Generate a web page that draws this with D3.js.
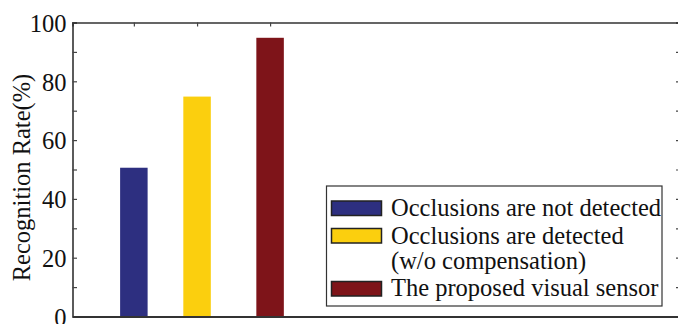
<!DOCTYPE html>
<html><head><meta charset="utf-8">
<script src="https://cdn.jsdelivr.net/npm/d3@7"></script>
<style>body{margin:0;background:#fff}svg{display:block}text{font-family:"Liberation Serif","Times New Roman",serif;fill:#111}</style>
</head><body>
<script>
const categories = ["Occlusions are not detected", "Occlusions are detected\n(w/o compensation)", "The proposed visual sensor"];
const values = [50.6, 74.8, 94.8];
const xPositions = [1, 2.03, 3.22];
const colors = ["#2d2f80", "#fbcf0e", "#7e1419"];
const yTicks = [0, 20, 40, 60, 80, 100];
const yMinorTicks = [0,10,20,30,40,50,60,70,80,90,100];

(function(){
const W = 678, H = 324;
const m = {left: 72.5, right: 680, top: 22.5, bottom: 316.5};
const svg = d3.select("body").append("svg").attr("width", W).attr("height", H);

const x = d3.scaleLinear().domain([0, 9.9]).range([m.left, m.right]);
const y = d3.scaleLinear().domain([0, 100]).range([m.bottom, m.top]);
const barW = 27.5;

svg.selectAll("rect.bar").data(values).join("rect")
  .attr("class","bar")
  .attr("x", (d,i) => x(xPositions[i]) - barW/2)
  .attr("width", barW)
  .attr("y", d => y(d))
  .attr("height", d => y(0) - y(d))
  .attr("fill", (d,i) => colors[i]);

const tickCol = "#444";
const gLeft = svg.append("g").attr("transform", `translate(${m.left},0)`)
  .call(d3.axisLeft(y).tickValues(yMinorTicks).tickSize(-4.5).tickFormat(""));
const gRight = svg.append("g").attr("transform", `translate(${m.right},0)`)
  .call(d3.axisRight(y).tickValues(yMinorTicks).tickSize(-4).tickFormat(""));
const gTop = svg.append("g").attr("transform", `translate(0,${m.top})`)
  .call(d3.axisTop(x).tickValues(xPositions).tickSize(-4).tickFormat(""));
const gBottom = svg.append("g").attr("transform", `translate(0,${m.bottom})`)
  .call(d3.axisBottom(x).tickValues([]).tickSize(0));
[gLeft, gRight, gTop, gBottom].forEach(g => {
  g.select(".domain").attr("stroke", "#333").attr("stroke-width", 1.6);
  g.selectAll(".tick line").attr("stroke", tickCol).attr("stroke-width", 1.2);
});
gBottom.select(".domain").attr("stroke-width", 2);

svg.append("g").selectAll("text").data(yTicks).join("text")
  .attr("x", m.left - 6).attr("y", d => y(d))
  .attr("dy", "0.38em").attr("text-anchor", "end")
  .attr("font-size", 24.5).text(d => d);

svg.append("text")
  .attr("transform", `translate(30,${(m.top + m.bottom)/2 + 8}) rotate(-90)`)
  .attr("text-anchor", "middle").attr("font-size", 24.5)
  .text("Recognition Rate(%)");

const lg = svg.append("g");
lg.append("rect").attr("x", 326.5).attr("y", 186).attr("width", 335.5).attr("height", 120)
  .attr("fill", "#fff").attr("stroke", "#333").attr("stroke-width", 1.2);
const swY = [201, 228.5, 281.5];
const textY = [215.5, 244, 295.5];
categories.forEach((c, i) => {
  lg.append("rect").attr("x", 331.5).attr("y", swY[i]).attr("width", 50).attr("height", 14.5)
    .attr("fill", colors[i]).attr("stroke", "#222").attr("stroke-width", 1.5);
  const t = lg.append("text").attr("x", 391).attr("y", textY[i]).attr("font-size", 24.5);
  c.split("\n").forEach((line, j) => {
    t.append("tspan").attr("x", 391).attr("dy", j === 0 ? 0 : 24.5).text(line);
  });
});
})();
</script>
</body></html>
